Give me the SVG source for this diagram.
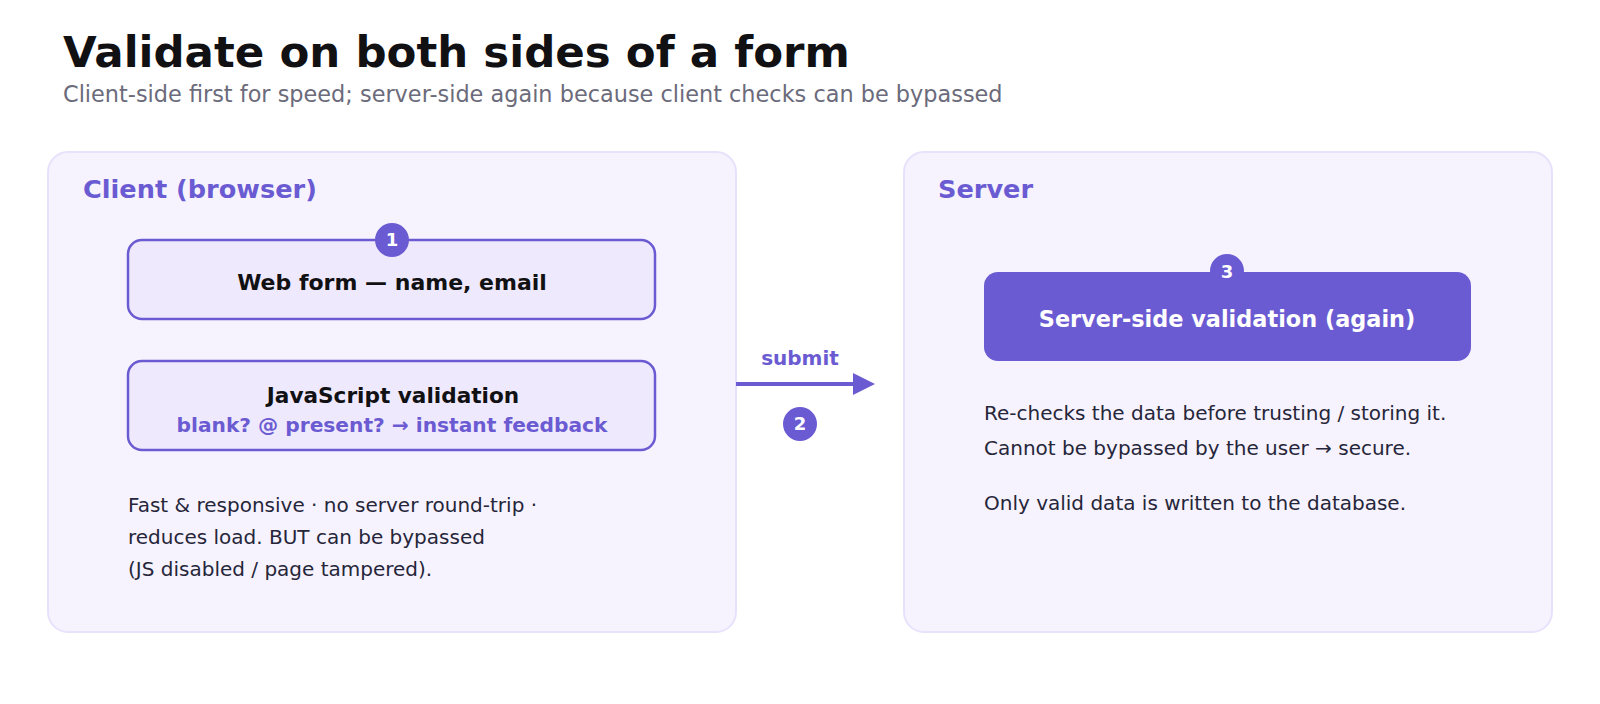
<svg xmlns="http://www.w3.org/2000/svg" width="1600" height="704" viewBox="0 0 1600 704">
  <style>
    text { font-family: "DejaVu Sans", Verdana, sans-serif; }
    .title { font-size: 43.5px; font-weight: bold; fill: #111114; }
    .sub { font-size: 22.4px; fill: #6b6b7b; }
    .panel { fill: #f6f3fe; stroke: #e7e1fb; stroke-width: 2; }
    .plabel { font-size: 25.6px; font-weight: bold; fill: #6b5bd2; }
    .box { fill: #efe9fd; stroke: #6b5bd2; stroke-width: 2.5; }
    .boxdark { fill: #6b5bd2; }
    .btxt { font-size: 22px; font-weight: bold; fill: #111114; text-anchor: middle; }
    .btxt2 { font-size: 21.6px; font-weight: bold; fill: #111114; text-anchor: middle; }
    .btxtw { font-size: 22.4px; font-weight: bold; fill: #ffffff; text-anchor: middle; }
    .bsub { font-size: 20.2px; font-weight: bold; fill: #6b5bd2; text-anchor: middle; }
    .note { font-size: 20px; fill: #26263a; }
    .badge { fill: #6b5bd2; }
    .btn { font-size: 18px; font-weight: bold; fill: #ffffff; text-anchor: middle; }
    .conn { stroke: #6b5bd2; stroke-width: 4; fill: none; }
    .clabel { font-size: 20px; font-weight: bold; fill: #6b5bd2; text-anchor: middle; }
  </style>
  <defs>
    <marker id="arrow" viewBox="0 0 22 22" refX="0" refY="11" markerWidth="22" markerHeight="22" markerUnits="userSpaceOnUse" orient="auto">
      <path d="M0,0 L22,11 L0,22 Z" fill="#6b5bd2"/>
    </marker>
  </defs>

  <rect width="1600" height="704" fill="#ffffff"/>

  <g id="header">
    <text class="title" x="63" y="67">Validate on both sides of a form</text>
    <text class="sub" x="63" y="102">Client-side first for speed; server-side again because client checks can be bypassed</text>
  </g>

  <g id="client-panel">
    <rect class="panel" x="48" y="152" width="688" height="480" rx="20"/>
    <text class="plabel" x="83" y="198">Client (browser)</text>
  </g>

  <g id="server-panel">
    <rect class="panel" x="904" y="152" width="648" height="480" rx="20"/>
    <text class="plabel" x="938" y="198">Server</text>
  </g>

  <g id="web-form">
    <rect class="box" x="128" y="240" width="527" height="79" rx="14"/>
    <text class="btxt" x="392" y="290">Web form — name, email</text>
    <circle class="badge" cx="392" cy="240" r="17"/>
    <text class="btn" x="392" y="246">1</text>
  </g>

  <g id="js-validation">
    <rect class="box" x="128" y="361" width="527" height="89" rx="14"/>
    <text class="btxt2" x="393" y="403">JavaScript validation</text>
    <text class="bsub" x="392" y="432">blank? @ present? → instant feedback</text>
  </g>

  <g id="client-note">
    <text class="note" x="128" y="512">Fast &amp; responsive · no server round-trip ·</text>
    <text class="note" x="128" y="544">reduces load. BUT can be bypassed</text>
    <text class="note" x="128" y="576">(JS disabled / page tampered).</text>
  </g>

  <g id="server-validation">
    <rect class="boxdark" x="984" y="272" width="487" height="89" rx="14"/>
    <text class="btxtw" x="1227" y="327">Server-side validation (again)</text>
    <circle class="badge" cx="1227" cy="271" r="17"/>
    <text class="btn" x="1227" y="278">3</text>
  </g>

  <g id="server-note">
    <text class="note" x="984" y="420">Re-checks the data before trusting / storing it.</text>
    <text class="note" x="984" y="455">Cannot be bypassed by the user → secure.</text>
    <text class="note" x="984" y="510">Only valid data is written to the database.</text>
  </g>

  <g id="connectors">
    <line class="conn" x1="736" y1="384" x2="853" y2="384" marker-end="url(#arrow)"/>
    <text class="clabel" x="800" y="365">submit</text>
    <circle class="badge" cx="800" cy="424" r="17"/>
    <text class="btn" x="800" y="430">2</text>
  </g>
</svg>
